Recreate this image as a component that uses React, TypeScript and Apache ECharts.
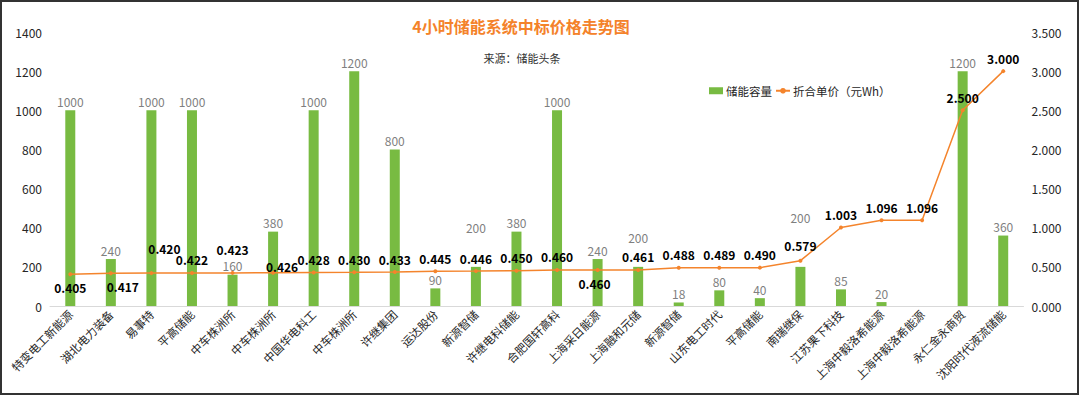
import React, { useEffect, useRef } from "react";
import * as echarts from "echarts";

const categories = [
  "特变电工新能源", "湖北电力装备", "易事特", "平高储能", "中车株洲所", "中车株洲所",
  "中国华电科工", "中车株洲所", "许继集团", "运达股份", "新源智储", "许继电科储能",
  "合肥国轩高科", "上海采日能源", "上海融和元储", "新源智储", "山东电工时代", "平高储能",
  "南瑞继保", "江苏果下科技", "上海中毅洛希能源", "上海中毅洛希能源", "永仁金永商贸", "沈阳时代液流储能",
];
const capacity: (number | null)[] = [
  1000, 240, 1000, 1000, 160, 380, 1000, 1200, 800, 90, 200, 380,
  1000, 240, 200, 18, 80, 40, 200, 85, 20, null, 1200, 360,
];
const price = [
  0.405, 0.417, 0.42, 0.422, 0.423, 0.426, 0.428, 0.43, 0.433, 0.445, 0.446, 0.45,
  0.46, 0.46, 0.461, 0.488, 0.489, 0.49, 0.579, 1.003, 1.096, 1.096, 2.5, 3.0,
];
const leftTicks = { min: 0, max: 1400, interval: 200 };
const rightTicks = { min: 0, max: 3.5, interval: 0.5 };

// label placement tweaks (per index)
const barLabelOffsets: Record<number, number> = { 10: -30, 14: -20, 18: -40 };
const priceLabelTweaks: Record<number, { pos: string; off: [number, number] }> = {
  0: { pos: "bottom", off: [0, 0] },
  1: { pos: "bottom", off: [12, 0] },
  2: { pos: "top", off: [13, -12] },
  4: { pos: "top", off: [0, -10] },
  5: { pos: "top", off: [9, 7] },
  13: { pos: "bottom", off: [-3, 0] },
  18: { pos: "top", off: [0, -2] },
};

const FONT = "'Noto Sans CJK SC', 'Noto Sans', sans-serif";

export default function App() {
  const ref = useRef<HTMLDivElement>(null);
  useEffect(() => {
    if (!ref.current) return;
    const chart = echarts.init(ref.current, null, { renderer: "svg" });
    chart.setOption({
      animation: false,
      textStyle: { fontFamily: FONT },
      graphic: [
        {
          type: "rect",
          shape: { x: 1, y: 1, width: 1077, height: 393 },
          style: { fill: "none", stroke: "#333", lineWidth: 2 },
          silent: true,
        },
        {
          type: "text",
          x: 521,
          y: 26,
          style: {
            text: "4小时储能系统中标价格走势图",
            align: "center",
            verticalAlign: "middle",
            fill: "#F4822A",
            font: `bold 16px ${FONT}`,
          },
        },
        {
          type: "text",
          x: 522,
          y: 58,
          style: {
            text: "来源：储能头条",
            align: "center",
            verticalAlign: "middle",
            fill: "#333",
            font: `11px ${FONT}`,
          },
        },
      ],
      legend: {
        left: 704,
        top: 80,
        itemWidth: 14,
        itemHeight: 7,
        itemGap: 3,
        textStyle: { fontSize: 11.5, color: "#262626", padding: [0, 0, 0, -2] },
        data: [
          { name: "储能容量", icon: "rect" },
          { name: "折合单价（元Wh）" },
        ],
      },
      grid: { left: 50, right: 56.5, top: 32, bottom: 90 },
      xAxis: {
        type: "category",
        data: categories,
        axisLine: { lineStyle: { color: "#d9d9d9" } },
        axisTick: { show: false },
        axisLabel: { interval: 0, rotate: 45, fontSize: 11.5, color: "#262626", margin: 6 },
      },
      yAxis: [
        {
          type: "value",
          ...leftTicks,
          splitLine: { show: false },
          axisLabel: {
            fontSize: 12,
            color: "#262626",
            margin: 8,
            formatter: (v: number) => String(v),
          },
        },
        {
          type: "value",
          ...rightTicks,
          splitLine: { show: false },
          axisLabel: {
            fontSize: 12,
            color: "#262626",
            margin: 8,
            formatter: (v: number) => v.toFixed(3),
          },
        },
      ],
      series: [
        {
          name: "储能容量",
          type: "bar",
          barWidth: 10,
          itemStyle: { color: "#78BB42" },
          data: capacity.map((v, i) =>
            barLabelOffsets[i] !== undefined
              ? { value: v, label: { offset: [0, barLabelOffsets[i]] } }
              : v
          ),
          label: {
            show: true,
            position: "top",
            distance: 3,
            color: "#7f7f7f",
            fontSize: 12,
          },
          z: 2,
        },
        {
          name: "折合单价（元Wh）",
          type: "line",
          yAxisIndex: 1,
          symbol: "circle",
          symbolSize: 4,
          itemStyle: { color: "#F4842C" },
          lineStyle: { color: "#F4842C", width: 1.5 },
          data: price.map((v, i) => {
            const t = priceLabelTweaks[i];
            return t
              ? { value: v, label: { position: t.pos, offset: t.off } }
              : v;
          }),
          label: {
            show: true,
            position: "top",
            distance: 5,
            color: "#000",
            fontWeight: "bold",
            fontSize: 12,
            formatter: (p: any) => Number(p.value).toFixed(3),
          },
          z: 3,
        },
      ],
    });
    return () => chart.dispose();
  }, []);
  return (
    <div style={{ position: "fixed", left: 0, top: 0, width: 1080, height: 396, background: "#fff" }}>
      <div ref={ref} style={{ width: 1080, height: 396 }} />
    </div>
  );
}
